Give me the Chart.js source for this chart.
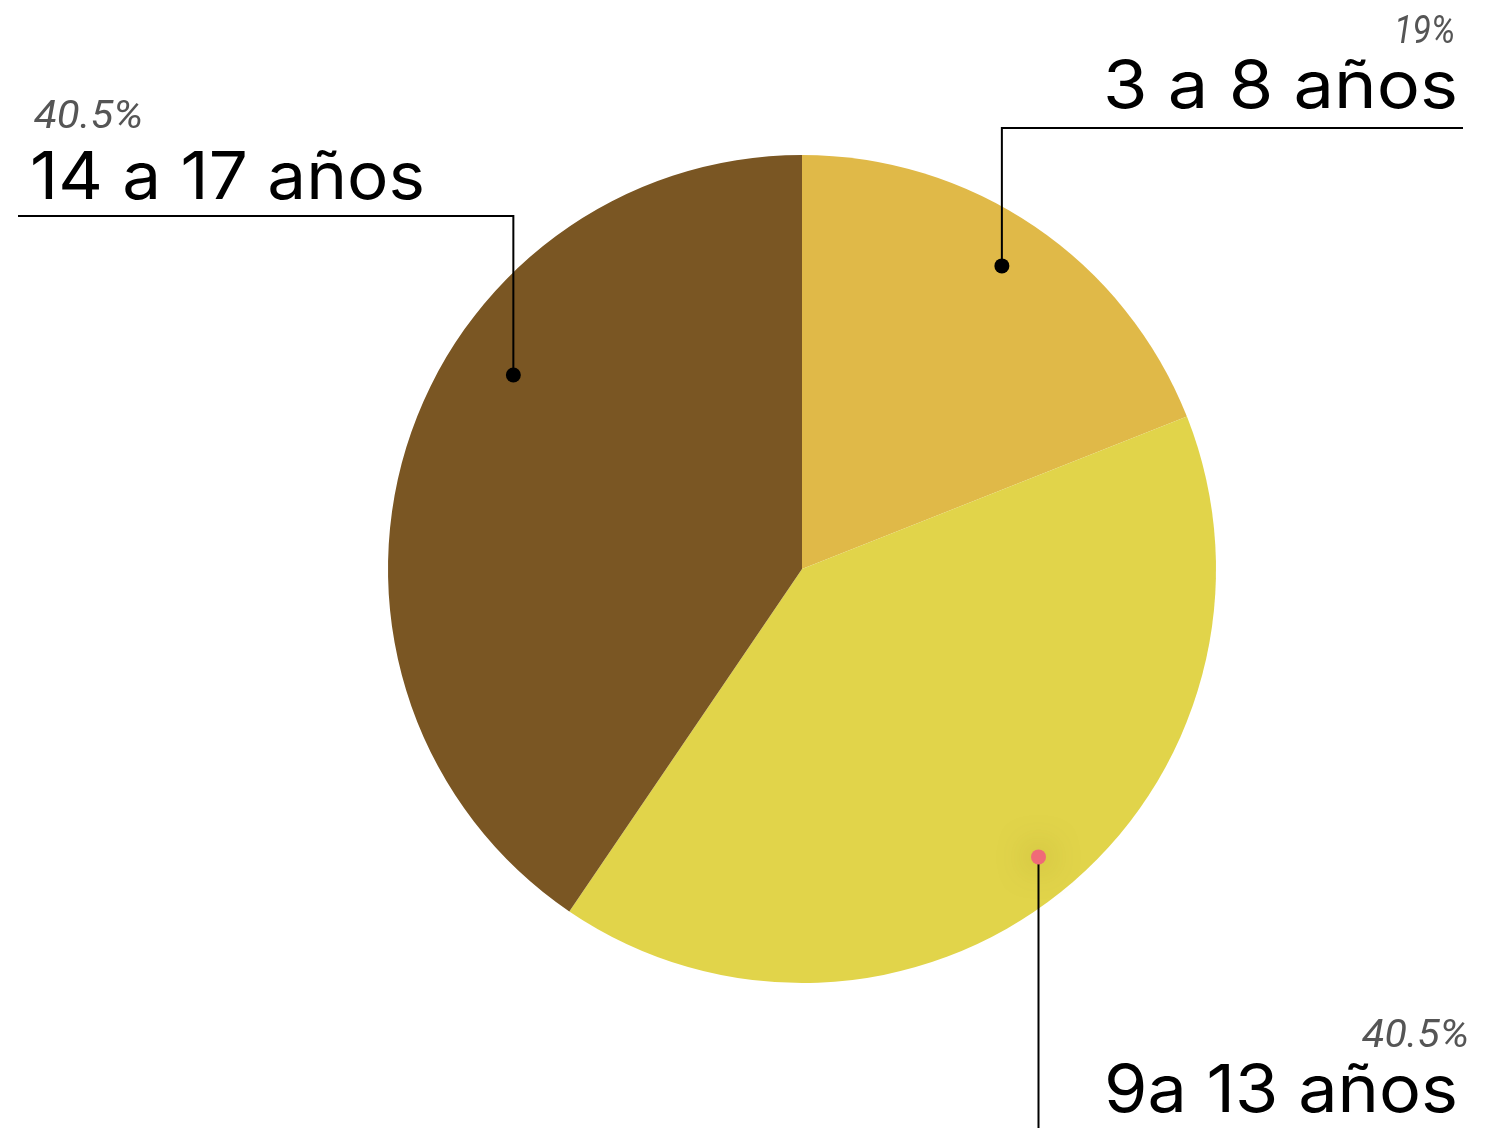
<!DOCTYPE html>
<html>
<head>
<meta charset="utf-8">
<script src="https://cdn.jsdelivr.net/npm/chart.js@4.4.1/dist/chart.umd.min.js"></script>
<style>
  html, body { margin: 0; padding: 0; background: #fff; }
  #wrap { width: 1503px; height: 1128px; position: relative; }
</style>
</head>
<body>
<div id="wrap"><canvas id="pieChart"></canvas></div>
<script>
// data
const labels = ['3 a 8 años', '9a 13 años', '14 a 17 años'];
const values = [19, 40.5, 40.5];
const pctLabels = ['19%', '40.5%', '40.5%'];
const colors = ['#E0B948', '#E1D44A', '#7A5623'];

// callout layout per slice: dot placement (angle from 12 o'clock, fraction of radius) and text box
const callouts = [
  { angle: 33.4,  rf: 0.877, side: 'right', lineY: 128,  lineX2: 1463, textX: 1458, pctX: 1455, nameY: 108,  pctY: 43,   nameW: 355, pctW: 61,  dot: '#000' },
  { angle: 140.6, rf: 0.90,  side: 'down',  lineY: 1128, lineX2: null, textX: 1458, pctX: 1469, nameY: 1112, pctY: 1047, nameW: 354, pctW: 107, dot: '#F06A78' },
  { angle: 303.9, rf: 0.84,  side: 'left',  lineY: 216,  lineX2: 18,   textX: 30,   pctX: 34,   nameY: 199,  pctY: 128,  nameW: 395, pctW: 109, dot: '#000' },
];

function fitText(ctx, text, x, y, width, align) {
  const w = ctx.measureText(text).width;
  const sx = width / w;
  ctx.save();
  ctx.translate(x, y);
  ctx.scale(sx, 1);
  ctx.textAlign = align;
  ctx.textBaseline = 'alphabetic';
  ctx.fillText(text, 0, 0);
  ctx.restore();
}

const calloutPlugin = {
  id: 'callouts',
  afterDraw(chart) {
    const ctx = chart.ctx;
    const meta = chart.getDatasetMeta(0);
    meta.data.forEach((arc, i) => {
      const c = callouts[i];
      const r = arc.outerRadius * c.rf;
      const a = (c.angle - 90) * Math.PI / 180;
      const px = arc.x + Math.cos(a) * r;
      const py = arc.y + Math.sin(a) * r;

      ctx.save();
      ctx.strokeStyle = '#000';
      ctx.lineWidth = 2;
      ctx.beginPath();
      ctx.moveTo(px, py);
      ctx.lineTo(px, c.lineY);
      if (c.side !== 'down') ctx.lineTo(c.lineX2, c.lineY);
      ctx.stroke();

      // dot (the hovered one gets a soft glow)
      if (c.side === 'down') {
        ctx.shadowColor = 'rgba(110,90,0,0.55)';
        ctx.shadowBlur = 32;
      }
      ctx.fillStyle = c.dot;
      ctx.beginPath();
      ctx.arc(px, py, 7.5, 0, Math.PI * 2);
      ctx.fill();
      ctx.restore();

      // text
      const align = c.side === 'left' ? 'left' : 'right';
      ctx.save();
      ctx.fillStyle = '#000';
      ctx.font = '400 66px Inter, "Noto Sans", sans-serif';
      fitText(ctx, labels[i], c.textX, c.nameY, c.nameW, align);
      ctx.fillStyle = '#555';
      ctx.font = 'italic 400 38px Roboto, "Open Sans", sans-serif';
      fitText(ctx, pctLabels[i], c.pctX, c.pctY, c.pctW, align);
      ctx.restore();
    });
  }
};

new Chart(document.getElementById('pieChart'), {
  type: 'pie',
  data: {
    labels,
    datasets: [{ data: values, backgroundColor: colors, borderWidth: 0, hoverOffset: 0 }],
  },
  options: {
    responsive: true,
    maintainAspectRatio: false,
    animation: false,
    events: [],
    layout: { padding: { left: 388, right: 287, top: 155, bottom: 145 } },
    plugins: { legend: { display: false }, tooltip: { enabled: false } },
  },
  plugins: [calloutPlugin],
});
</script>
</body>
</html>
